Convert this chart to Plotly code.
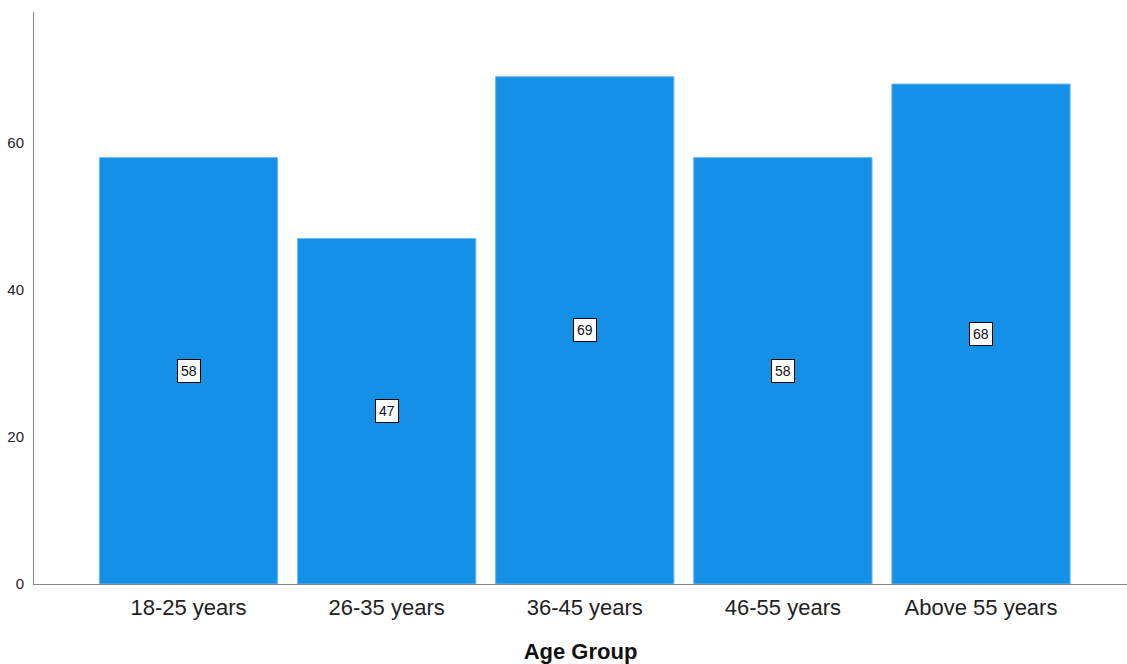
import plotly.graph_objects as go

categories = ["18-25 years", "26-35 years", "36-45 years", "46-55 years", "Above 55 years"]
counts = [58, 47, 69, 58, 68]
y_ticks = [0, 20, 40, 60]

fig = go.Figure()
fig.add_trace(go.Bar(
    x=categories, y=counts,
    marker=dict(color="#1490E6", line=dict(color="#6FB8F0", width=1)),
    hoverinfo="skip",
))

for c, v in zip(categories, counts):
    fig.add_annotation(
        x=c, y=v / 2, text=str(v), showarrow=False,
        font=dict(family="Liberation Sans, Arial", size=14, color="#111"),
        bgcolor="white", bordercolor="black", borderwidth=1, borderpad=3,
    )

fig.update_layout(
    width=1127, height=664,
    margin=dict(l=34, r=0, t=12, b=80),
    plot_bgcolor="white", paper_bgcolor="white",
    showlegend=False, bargap=0.1,
    font=dict(family="Liberation Sans, Arial", color="#222"),
)
fig.update_xaxes(
    range=[-0.78, 4.737], showline=True, linecolor="#888", linewidth=1,
    showgrid=False, ticks="outside", ticklen=4, tickcolor="rgba(0,0,0,0)",
    tickfont=dict(size=22, color="#222"),
    title=dict(text="<b>Age Group</b>", font=dict(size=22, color="#111"), standoff=25),
)
fig.update_yaxes(
    range=[0, 77.8], showline=True, linecolor="#888", linewidth=1,
    showgrid=False, zeroline=False, tickvals=y_ticks,
    ticks="outside", ticklen=6, tickcolor="rgba(0,0,0,0)",
    tickfont=dict(size=15, color="#222"),
)

fig.write_html("out.html")
